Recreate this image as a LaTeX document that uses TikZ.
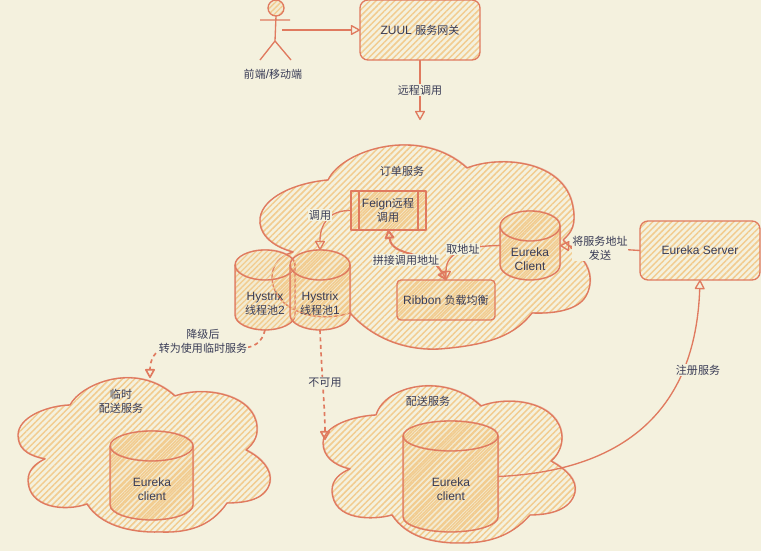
\documentclass[tikz,border=0pt]{standalone}
\usepackage{fontspec}
\setmainfont{Liberation Sans}
\newfontfamily\cjk[Scale=0.92]{Noto Sans CJK SC}
\usetikzlibrary{arrows.meta,patterns.meta}
\definecolor{bgc}{HTML}{F4F1DE}
\definecolor{stroke}{HTML}{E07A5F}
\definecolor{hatchc}{HTML}{F2CC8F}
\definecolor{txt}{HTML}{393C56}
\tikzset{
  lbl/.style={inner sep=0.6pt,text=txt,align=center,font=\fontsize{9}{10.5}\selectfont},
  edgelbl/.style={lbl,fill=bgc},
  ln/.style={draw=stroke,line width=1pt,line join=round},
  rough/.style={postaction={draw=stroke,draw opacity=.45,line width=.6pt,transform canvas={shift={(.45pt,.4pt)}}}},
  hatchA/.style={pattern={Lines[angle=45,distance=3.3pt,line width=1.1pt]},pattern color=hatchc},
  hatchB/.style={preaction={fill=hatchc,fill opacity=.15},pattern={Lines[angle=45,distance=2.9pt,line width=1pt]},pattern color=hatchc},
  cloudshape/.style={ln,hatchA,rough},
  boxA/.style={ln,hatchA,rounded corners=6pt,inner sep=0,outer sep=0},
  boxB/.style={ln,hatchB,rounded corners=3pt,inner sep=0,outer sep=0},
  arrowed/.style={ln,-{Triangle[open,length=7.5pt,width=8pt,round]}},
  twoway/.style={ln,line width=1.5pt,{Triangle[open,length=7.5pt,width=8pt,round]}-{Triangle[open,length=7.5pt,width=8pt,round]}},
  dashedge/.style={arrowed,line width=1.25pt,dash pattern=on 3pt off 2.6pt},
}
\newcommand{\cyl}[5]{% name, cx, cy, w, h
  \pgfmathsetmacro{\cL}{#2-#4/2}\pgfmathsetmacro{\cR}{#2+#4/2}
  \pgfmathsetmacro{\cT}{#3-#5/2}\pgfmathsetmacro{\cB}{#3+#5/2}
  \pgfmathsetmacro{\cA}{#2-.275*#4}\pgfmathsetmacro{\cC}{#2+.275*#4}
  \node[inner sep=0,outer sep=0,minimum width=#4*0.75pt,minimum height=#5*0.75pt] (#1) at (#2,#3) {};
  \path[ln,hatchB,rough] (\cL,\cT+15) .. controls (\cL,\cT+6.75) and (\cA,\cT) .. (#2,\cT)
    .. controls (\cC,\cT) and (\cR,\cT+6.75) .. (\cR,\cT+15) -- (\cR,\cB-15)
    .. controls (\cR,\cB-6.75) and (\cC,\cB) .. (#2,\cB)
    .. controls (\cA,\cB) and (\cL,\cB-6.75) .. (\cL,\cB-15) -- cycle;
  \draw[ln,rough] (\cL,\cT+15) .. controls (\cL,\cT+23.25) and (\cA,\cT+30) .. (#2,\cT+30)
    .. controls (\cC,\cT+30) and (\cR,\cT+23.25) .. (\cR,\cT+15);
}
\begin{document}
\begin{tikzpicture}[x=0.75pt,y=-0.75pt]
\useasboundingbox (0,0) rectangle (761,551);
\fill[bgc] (0,0) rectangle (761,551);

% clouds
\path[cloudshape] (328,180) .. controls (342,150) and (420,125) .. (467,168)
  .. controls (500,155) and (565,160) .. (573,207)
  .. controls (576,225) and (572,232) .. (563,240)
  .. controls (570,248) and (578,252) .. (583,260)
  .. controls (592,272) and (592,285) .. (586,296)
  .. controls (578,310) and (555,314) .. (532,313)
  .. controls (515,335) and (490,345) .. (440,349)
  .. controls (405,351) and (372,338) .. (350,313)
  .. controls (335,318) and (318,318) .. (305,314)
  .. controls (285,308) and (272,295) .. (272,277)
  .. controls (272,265) and (280,256) .. (293,252)
  .. controls (270,246) and (258,232) .. (260,218)
  .. controls (263,197) and (295,183) .. (328,180) -- cycle;

\path[cloudshape] (70,405) .. controls (80,385) and (135,360) .. (175,396)
  .. controls (205,385) and (255,395) .. (257,427)
  .. controls (258,438) and (252,445) .. (246,450)
  .. controls (262,458) and (272,470) .. (270,482)
  .. controls (266,500) and (245,503) .. (227,503)
  .. controls (210,528) and (185,533) .. (160,532)
  .. controls (130,533) and (100,525) .. (87,504)
  .. controls (65,512) and (28,508) .. (28,480)
  .. controls (28,470) and (36,463) .. (45,459)
  .. controls (25,455) and (18,447) .. (18,435)
  .. controls (18,418) and (45,406) .. (70,405) -- cycle;

\path[cloudshape] (376,415) .. controls (385,385) and (445,372) .. (481,406)
  .. controls (510,395) and (560,402) .. (562,437)
  .. controls (562,448) and (557,456) .. (551,461)
  .. controls (567,470) and (577,480) .. (575,492)
  .. controls (571,510) and (550,515) .. (530,515)
  .. controls (510,538) and (485,543) .. (463,543)
  .. controls (430,544) and (405,535) .. (392,515)
  .. controls (375,520) and (332,522) .. (332,490)
  .. controls (332,480) and (340,473) .. (350,469)
  .. controls (332,465) and (323,455) .. (323,443)
  .. controls (323,425) and (355,416) .. (376,415) -- cycle;

% boxes
\node[boxA,minimum width=120*0.75pt,minimum height=60*0.75pt] (zuul) at (420,30) {};
\node[lbl] (zuult) at (420,30) {ZUUL {\cjk 服务网关}};
\node[boxA,minimum width=120*0.75pt,minimum height=59*0.75pt] (server) at (700,250.5) {};
\node[lbl] (servert) at (700,250) {Eureka Server};
\node[boxB,rounded corners=0pt,minimum width=75*0.75pt,minimum height=39*0.75pt] (feign) at (388.5,210.5) {};
\draw[ln] (feign.north west) ++(8,0) coordinate (fa) -- (fa |- feign.south);
\draw[ln] (feign.north east) ++(-8,0) coordinate (fb) -- (fb |- feign.south);
\node[lbl] (feignt) at (388,210) {Feign{\cjk 远程}\\{\cjk 调用}};
\node[boxB,minimum width=98*0.75pt,minimum height=40*0.75pt] (ribbon) at (446,300) {};
\node[lbl] (ribbont) at (446,300) {Ribbon {\cjk 负载均衡}};

% cylinders
\cyl{h2}{265}{290}{60}{80}
\cyl{h1}{320}{290}{60}{80}
\cyl{eu}{530}{245.5}{60}{69}
\cyl{c2}{151.5}{475.5}{83}{89}
\cyl{c3}{450.5}{476.5}{95}{111}
\node[lbl] (h2t) at (265,304) {Hystrix\\{\cjk 线程池}2};
\node[lbl] (h1t) at (320,304) {Hystrix\\{\cjk 线程池}1};
\node[lbl] (eut) at (530,259) {Eureka\\Client};
\node[lbl] (c2t) at (152,489) {Eureka\\client};
\node[lbl] (c3t) at (451,489) {Eureka\\client};

% actor
\node[ln,hatchB,circle,minimum size=16*0.75pt,inner sep=0,outer sep=0] (head) at (276,8) {};
\coordinate (hip) at (275,41);
\coordinate (armL) at (260,20);
\coordinate (armR) at (290,20);
\coordinate (legL) at (260,60);
\coordinate (legR) at (291,60);
\draw[ln] (head.south) -- (hip) (armL) -- (armR) (legL) -- (hip) -- (legR);
\node[lbl] (actor) at (273,74) {{\cjk 前端}/{\cjk 移动端}};
\coordinate (hand) at (282,30);
\coordinate (gate) at (420,120);
\coordinate (c1end) at (325,440);
\coordinate (c2end) at (150,378);

% connectors
\draw[arrowed] (hand) -- (zuul.west);
\draw[arrowed] (zuul.south) -- (gate);
\draw[arrowed] (feign.west) .. controls (328,210) and (320,225) .. (h1.north);
\draw[twoway] (feign.south) .. controls (392,258) and (430,250) .. (ribbon.north);
\draw[arrowed] (eu.west) .. controls (470,246) and (446,250) .. (ribbon.north);
\draw[arrowed] (server.west) -- (eu.east);
\draw[arrowed] (c3.east) .. controls (600,472) and (695,430) .. (server.south);
\draw[dashedge] (h1.south) .. controls (322,380) and (325,410) .. (c1end);
\draw[dashedge] (h2.south) .. controls (262,342) and (255,348) .. (240,348)
  -- (165,348) .. controls (155,350) and (150,360) .. (c2end);

% labels
\node[edgelbl] (l1) at (420,90) {\cjk 远程调用};
\node[edgelbl] (l2) at (320,215) {\cjk 调用};
\node[edgelbl] (l3) at (406,260) {\cjk 拼接调用地址};
\node[edgelbl] (l4) at (463,249) {\cjk 取地址};
\node[edgelbl] (l5) at (600,248) {{\cjk 将服务地址}\\{\cjk 发送}};
\node[edgelbl] (l6) at (203,341) {{\cjk 降级后}\\{\cjk 转为使用临时服务}};
\node[edgelbl] (l7) at (325,383) {\cjk 不可用};
\node[edgelbl] (l8) at (698,370) {\cjk 注册服务};
\node[lbl] (t1) at (402,171) {\cjk 订单服务};
\node[lbl] (t2) at (121,401) {{\cjk 临时}\\{\cjk 配送服务}};
\node[lbl] (t3) at (428,401) {\cjk 配送服务};
\end{tikzpicture}
\end{document}
